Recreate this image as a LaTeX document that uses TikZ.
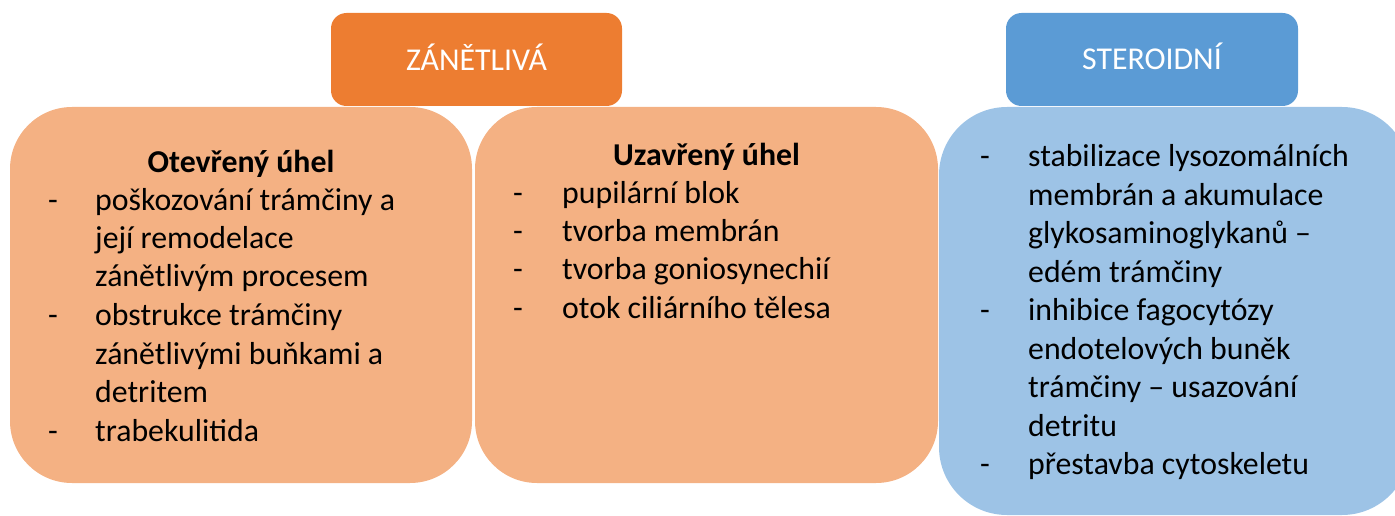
\documentclass[tikz,border=0pt]{standalone}
\usepackage{fontspec}
\setmainfont{Carlito}
\usepackage{array}
\definecolor{hdorange}{HTML}{ED7D31}
\definecolor{bxorange}{HTML}{F4B183}
\definecolor{hdblue}{HTML}{5B9BD5}
\definecolor{bxblue}{HTML}{9DC3E6}
\tikzset{
  panel/.style={rectangle, inner sep=0pt, draw=none},
  header/.style={panel, rounded corners=15.5pt, minimum width=291pt, minimum height=93pt},
  hdtext/.style={inner sep=0pt, anchor=base, text=white, font=\fontsize{31.8}{38.5}\selectfont},
  title/.style={inner sep=0pt, anchor=base, font=\fontsize{31.8}{38.5}\selectfont\bfseries},
  items/.style={inner sep=0pt, anchor=base west, font=\fontsize{31.8}{38.5}\selectfont},
}
\newcolumntype{D}[1]{@{}p{#1}@{}l@{}}
\begin{document}
\begin{tikzpicture}[x=1pt,y=-1pt]
\useasboundingbox (0,0) rectangle (1395,516);
\begin{scope}
\clip (0,0) rectangle (1395,516);
% content boxes
\node[panel, fill=bxorange, rounded corners=62pt, minimum width=462pt, minimum height=376pt] (open) at (241,295) {};
\node[panel, fill=bxorange, rounded corners=62pt, minimum width=463pt, minimum height=376pt] (closed) at (706.5,295) {};
\node[panel, fill=bxblue, rounded corners=68pt, minimum width=471pt, minimum height=408pt] (ster) at (1174.5,311) {};
% headers
\node[header, fill=hdorange] (hzan) at (476.5,59.5) {};
\node[header, fill=hdblue, minimum width=292pt] (hste) at (1152,59.5) {};
\end{scope}
\node[hdtext] (tzan) at (476.5,71) {ZÁNĚTLIVÁ};
\node[hdtext] (tste) at (1152,70) {STEROIDNÍ};
% left box
\node[title] (topen) at (241,172) {Otevřený úhel};
\node[items] (iopen) at (48,210) {\begin{tabular}[t]{D{47pt}}
- & poškozování trámčiny a\\
  & její remodelace\\
  & zánětlivým procesem\\
- & obstrukce trámčiny\\
  & zánětlivými buňkami a\\
  & detritem\\
- & trabekulitida
\end{tabular}};
% middle box
\node[title] (tclosed) at (706.5,165) {Uzavřený úhel};
\node[items] (iclosed) at (513,203) {\begin{tabular}[t]{D{49pt}}
- & pupilární blok\\
- & tvorba membrán\\
- & tvorba goniosynechií\\
- & otok ciliárního tělesa
\end{tabular}};
% right box
\node[items] (ister) at (980,167) {\begin{tabular}[t]{D{48pt}}
- & stabilizace lysozomálních\\
  & membrán a akumulace\\
  & glykosaminoglykanů –\\
  & edém trámčiny\\
- & inhibice fagocytózy\\
  & endotelových buněk\\
  & trámčiny – usazování\\
  & detritu\\
- & přestavba cytoskeletu
\end{tabular}};
\end{tikzpicture}
\end{document}
